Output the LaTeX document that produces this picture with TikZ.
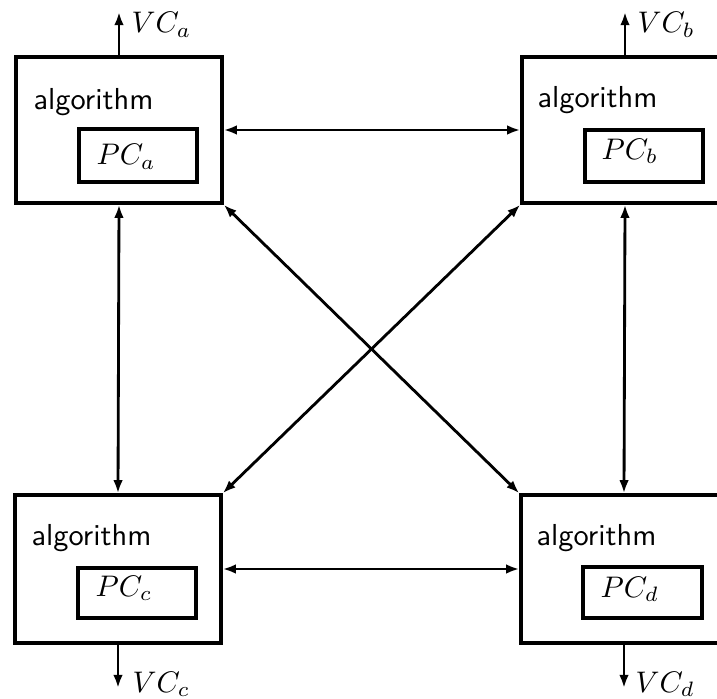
\documentclass[tikz,border=0pt]{standalone}
\usetikzlibrary{arrows.meta,fit}
\begin{document}
\begin{tikzpicture}[x=0.336pt,y=-0.336pt,
  box/.style={draw,line width=1.15pt,inner sep=0pt},
  pcbox/.style={draw,line width=1.05pt,inner sep=0pt},
  tip/.tip={Latex[length=4.4pt,width=3.2pt]},
  conn/.style={line width=0.95pt,tip-tip},
  outarrow/.style={line width=0.95pt,-tip},
  alg/.style={font=\sffamily\fontsize{10.2}{12}\selectfont,anchor=base west,inner sep=0pt},
  lab/.style={anchor=base west,inner sep=0pt}]
\clip (0,0) rectangle (717,698);
% main boxes
\node[box,fit={(16,57)(222,203)}] (A) {};
\node[box,fit={(522,57)(728,203)}] (B) {};
\node[box,fit={(15,495)(221,643)}] (C) {};
\node[box,fit={(521,495)(727,643)}] (D) {};
% inner boxes
\node[pcbox,fit={(79,129)(197,182)}] (PA) {};
\node[pcbox,fit={(585,130)(703,182)}] (PB) {};
\node[pcbox,fit={(78,568)(196,618)}] (PC) {};
\node[pcbox,fit={(583,567)(702,618)}] (PD) {};
% texts
\node[alg] (tA) at (33,110) {algorithm};
\node[alg] (tB) at (537,108) {algorithm};
\node[alg] (tC) at (31,545) {algorithm};
\node[alg] (tD) at (536,545) {algorithm};
\node[lab] (lA) at (96,165) {$PC_a$};
\node[lab] (lB) at (601,159) {$PC_b$};
\node[lab] (lC) at (95,596) {$PC_c$};
\node[lab] (lD) at (600,597) {$PC_d$};
\node[lab] (vA) at (131,33) {$VC_a$};
\node[lab] (vB) at (637,33) {$VC_b$};
\node[lab] (vC) at (132,692) {$VC_c$};
\node[lab] (vD) at (635,692) {$VC_d$};
% free ends
\coordinate (topY) at (0,12);
\coordinate (botY) at (0,688);
% connectors
\draw[conn] (A.east) -- (B.west);
\draw[conn] (C.east) -- (D.west);
\draw[conn] (A.south) -- (C.north);
\draw[conn] (B.south) -- (D.north);
\draw[conn] (A.south east) -- (D.north west);
\draw[conn] (B.south west) -- (C.north east);
\draw[outarrow] (A.north) -- (A.north |- topY);
\draw[outarrow] (B.north) -- (B.north |- topY);
\draw[outarrow] (C.south) -- (C.south |- botY);
\draw[outarrow] (D.south) -- (D.south |- botY);
\end{tikzpicture}
\end{document}
